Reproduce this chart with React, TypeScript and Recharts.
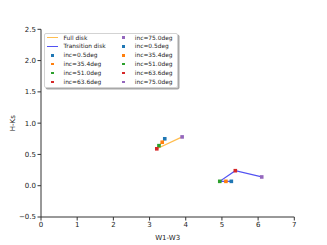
import React from 'react';
import { ComposedChart, Line, Scatter, XAxis, YAxis } from 'recharts';

const incLabels = ['inc=0.5deg', 'inc=35.4deg', 'inc=51.0deg', 'inc=63.6deg', 'inc=75.0deg'];
const incColors = ['#1f77b4', '#ff7f0e', '#2ca02c', '#d62728', '#9467bd'];
const fullW1W3 = [3.42, 3.35, 3.26, 3.2, 3.9];
const fullHKs = [0.75, 0.695, 0.64, 0.59, 0.78];
const transW1W3 = [5.26, 5.11, 4.94, 5.37, 6.1];
const transHKs = [0.07, 0.07, 0.07, 0.24, 0.14];
const xTicks = [0, 1, 2, 3, 4, 5, 6, 7];
const yTicks = [-0.5, 0, 0.5, 1, 1.5, 2, 2.5];

const fullColor = '#ffbd4f';
const transColor = '#5252f2';
const FONT = '"DejaVu Sans", sans-serif';

const fullData = fullW1W3.map((x, i) => ({ x, y: fullHKs[i] }));
const transData = transW1W3.map((x, i) => ({ x, y: transHKs[i] }));

const square = (color: string) => (props: any) => {
  const { cx, cy } = props;
  if (cx == null || cy == null) return <g />;
  return <rect x={cx - 1.8} y={cy - 1.8} width={3.6} height={3.6} fill={color} />;
};

const fmtY = (v: number) => (v < 0 ? '\u2212' + Math.abs(v).toFixed(1) : v.toFixed(1));

const legendRows: { kind: 'line' | 'sq'; color: string; label: string }[] = [
  { kind: 'line', color: fullColor, label: 'Full disk' },
  { kind: 'line', color: transColor, label: 'Transition disk' },
  ...incLabels.map((l, i) => ({ kind: 'sq' as const, color: incColors[i], label: l })),
  ...incLabels.map((l, i) => ({ kind: 'sq' as const, color: incColors[i], label: l })),
];

function LegendBox() {
  const rowY = [3.8, 12.8, 21.6, 30.3, 39.3, 48.3];
  return (
    <div
      style={{
        position: 'absolute',
        left: 43.5,
        top: 32.7,
        width: 132,
        height: 53,
        border: '1px solid #d3d3d3',
        borderRadius: 2,
        background: 'rgba(255,255,255,0.85)',
        boxShadow: '1.5px 1.5px 0 #a8a8a8',
        fontFamily: FONT,
        fontSize: 5.9,
        color: '#222',
      }}
    >
      {legendRows.map((r, i) => {
        const col = i < 6 ? 0 : 1;
        const row = i % 6;
        const cy = rowY[row];
        const mx = col === 0 ? 8.2 : 79.2;
        const tx = col === 0 ? 19 : 90.3;
        return (
          <React.Fragment key={i}>
            {r.kind === 'line' ? (
              <div style={{ position: 'absolute', left: mx - 5.8, top: cy - 0.6, width: 11.6, height: 1.2, background: r.color }} />
            ) : (
              <div style={{ position: 'absolute', left: mx - 1.3, top: cy - 1.3, width: 2.6, height: 2.6, background: r.color }} />
            )}
            <div style={{ position: 'absolute', left: tx, top: cy - 4, lineHeight: '8px', whiteSpace: 'nowrap' }}>{r.label}</div>
          </React.Fragment>
        );
      })}
    </div>
  );
}

export default function App() {
  return (
    <div style={{ position: 'absolute', left: 0, top: 0, width: 327, height: 245, background: '#fff' }}>
      <ComposedChart width={327} height={245} margin={{ top: 29.3, right: 32.7, bottom: 0, left: 0 }}>
        <XAxis
          dataKey="x"
          type="number"
          domain={[0, 7]}
          ticks={xTicks}
          allowDataOverflow
          height={28}
          tickSize={3.5}
          axisLine={{ stroke: '#333', strokeWidth: 1 }}
          tickLine={{ stroke: '#333' }}
          tick={{ fill: '#222', fontSize: 7, fontFamily: FONT }}
          tickMargin={1.5}
          label={{ value: 'W1-W3', position: 'insideBottom', offset: 5.5, style: { fill: '#222', fontSize: 7, fontFamily: FONT } }}
        />
        <XAxis xAxisId="top" orientation="top" type="number" domain={[0, 7]} height={0} tick={false} tickLine={false} axisLine={{ stroke: '#333' }} />
        <YAxis
          dataKey="y"
          type="number"
          domain={[-0.5, 2.5]}
          ticks={yTicks}
          allowDataOverflow
          width={41}
          tickSize={3.5}
          axisLine={{ stroke: '#333', strokeWidth: 1 }}
          tickLine={{ stroke: '#333' }}
          tick={{ fill: '#222', fontSize: 7, fontFamily: FONT }}
          tickMargin={1.5}
          tickFormatter={fmtY}
          label={{ value: 'H-Ks', angle: -90, position: 'insideLeft', offset: 12.5, style: { fill: '#222', fontSize: 7, fontFamily: FONT, textAnchor: 'middle' } }}
        />
        <YAxis yAxisId="right" orientation="right" type="number" domain={[-0.5, 2.5]} width={0} tick={false} tickLine={false} axisLine={{ stroke: '#333' }} />
        <Line data={fullData} dataKey="y" stroke={fullColor} strokeWidth={1.2} dot={false} isAnimationActive={false} />
        <Line data={transData} dataKey="y" stroke={transColor} strokeWidth={1.2} dot={false} isAnimationActive={false} />
        {incColors.map((c, i) => (
          <Scatter
            key={'f' + i}
            data={[fullData[i]]}
            dataKey="y"
            fill={c}
            shape={square(c)}
            isAnimationActive={false}
          />
        ))}
        {incColors.map((c, i) => (
          <Scatter
            key={'t' + i}
            data={[transData[i]]}
            dataKey="y"
            fill={c}
            shape={square(c)}
            isAnimationActive={false}
          />
        ))}
      </ComposedChart>
      <LegendBox />
    </div>
  );
}
